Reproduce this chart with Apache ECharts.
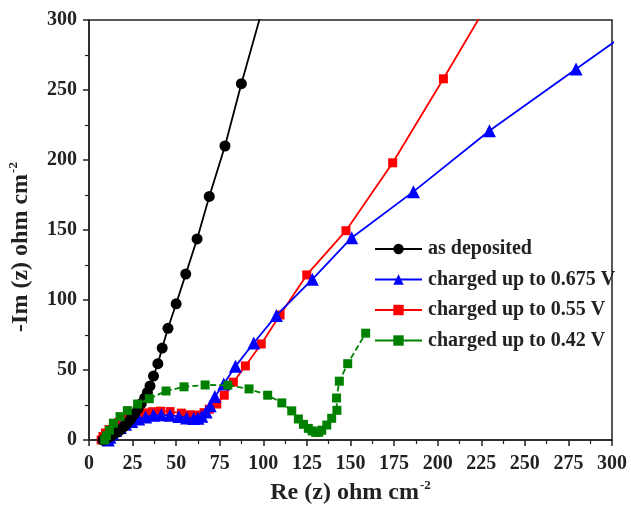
<!DOCTYPE html>
<html>
<head>
<meta charset="utf-8">
<script src="https://cdn.jsdelivr.net/npm/echarts@6/dist/echarts.min.js"></script>
<style>
  html, body { margin: 0; padding: 0; background: #fff; }
  #chart { width: 631px; height: 510px; }
</style>
</head>
<body>
<div id="chart"></div>
<script>
// Nyquist plot data: [Re(z), -Im(z)] in ohm cm^-2
const seriesNames = [
  'as deposited',
  'charged up to 0.675 V',
  'charged up to 0.55 V',
  'charged up to 0.42 V'
];

const asDeposited = [
  [8, 0], [10, 1], [12, 2.5], [14, 4], [16, 5.5], [18, 7.2], [20, 9.5],
  [22, 12], [24, 15], [26, 18.5], [28, 22], [30, 26], [32, 30], [33.5, 34],
  [35, 38.6], [37, 45.7], [39.5, 54.5], [42, 65.7], [45.3, 79.8], [50, 97.3],
  [55.5, 118.5], [62, 143.6], [69, 174], [78, 210], [87.4, 254.5], [99.5, 308]
];

const charged0675 = [
  [11, 0], [12, 2], [13.5, 4.5], [15.5, 7], [18, 9], [21, 11.3], [24.5, 13.3],
  [28.5, 15], [32.5, 16.5], [37, 17.6], [41.5, 18], [46.5, 17.6], [51.5, 16.8],
  [56, 15.8], [60, 15.3], [62.5, 15.5], [64.7, 17], [67.2, 20], [69.5, 24.5],
  [72.2, 31], [77.3, 40], [84, 52.6], [94.5, 69.3], [107.5, 89], [128.1, 114.8],
  [150.7, 144.5], [186.1, 177.4], [229.7, 220.9], [279.4, 265], [337, 316]
];

const charged055 = [
  [7, 0], [8, 2.5], [9.5, 5], [11.5, 7.5], [14, 10], [17, 12.5], [20.5, 14.8],
  [24.5, 16.8], [28.5, 18.3], [32.5, 19.4], [36.5, 20.2], [41, 20.6], [46.5, 20.3],
  [53, 19.2], [58, 18], [62.7, 17.8], [66, 19.5], [69, 22], [73.3, 25.7],
  [77.6, 32], [82.8, 41.3], [89.7, 52.9], [98.8, 68.6], [109.6, 89.3],
  [124.9, 117.9], [147.4, 149.5], [174.2, 198], [203.3, 258], [235, 325]
];

const charged042 = [
  [9, 0], [10, 3], [11.7, 7], [14, 12], [17.8, 16.7], [22, 21], [27.9, 25.7],
  [34.6, 29.5], [44.2, 35], [54.5, 38], [66.6, 39.3], [79.6, 39.2], [91.8, 36.5],
  [102.5, 32], [110.6, 26.5], [116.3, 20.8], [120.1, 15], [123, 11.2],
  [125.8, 8.3], [128, 6.5], [130, 5.5], [131.8, 5.5], [133.5, 7], [136.4, 10.7],
  [139.2, 15.5], [142.2, 21.2], [142, 30], [143.6, 42], [148.4, 54.5], [158.7, 76.3]
];

// Axis ranges and tick steps
const xRange = [0, 300];
const yRange = [0, 300];
const xStep = 25;
const yStep = 50;

const serif = "'Liberation Serif', 'Times New Roman', serif";
const axisColor = '#222';

const chart = echarts.init(document.getElementById('chart'), null, { renderer: 'canvas' });

const titleRich = {
  t: { fontFamily: serif, fontWeight: 'bold', fontSize: 24, color: '#222', lineHeight: 28 },
  s: { fontFamily: serif, fontWeight: 'bold', fontSize: 13, color: '#222', verticalAlign: 'top', lineHeight: 28, padding: [0, 0, 16, 1] }
};

function axisCommon(step, range) {
  return {
    type: 'value',
    min: range[0],
    max: range[1],
    interval: step,
    axisLine: { show: true, onZero: false, lineStyle: { color: axisColor, width: 1.5 } },
    axisTick: { show: true, inside: false, length: 6, lineStyle: { color: axisColor, width: 1.5 } },
    minorTick: { show: true, splitNumber: 2, length: 4, lineStyle: { color: axisColor, width: 1.2 } },
    splitLine: { show: false },
    axisLabel: { color: '#222', fontFamily: serif, fontWeight: 'bold', fontSize: 20, margin: 12 }
  };
}

const xAxis = Object.assign(axisCommon(xStep, xRange), {
  name: '{t|Re (z) ohm cm}{s|-2}',
  nameLocation: 'middle',
  nameGap: 38,
  nameTextStyle: { rich: titleRich }
});
xAxis.axisLabel.margin = 14;

const yAxis = Object.assign(axisCommon(yStep, yRange), {
  name: '{t|-Im (z) ohm cm}{s|-2}',
  nameLocation: 'middle',
  nameGap: 54,
  nameRotate: 90,
  // extra room at the far end of the title nudges it toward the origin
  nameTextStyle: { rich: titleRich, padding: [0, 34, 0, 0] }
});

function lineSeries(name, data, color, symbol, size, dashed, z) {
  return {
    name: name,
    type: 'line',
    data: data,
    symbol: symbol,
    symbolSize: size,
    showSymbol: true,
    clip: true,
    z: z,
    itemStyle: { color: color },
    lineStyle: { color: color, width: 1.8, type: dashed ? [6, 3] : 'solid' },
    emphasis: { disabled: true },
    animation: false
  };
}

chart.setOption({
  backgroundColor: '#fff',
  animation: false,
  grid: {
    left: 89, right: 19, top: 20, bottom: 70,
    containLabel: false,
    outerBoundsMode: 'none',
    show: true, borderColor: axisColor, borderWidth: 1.5, backgroundColor: 'transparent'
  },
  legend: {
    orient: 'vertical',
    left: 374,
    top: 239,
    padding: 0,
    itemWidth: 47,
    itemHeight: 13,
    itemGap: 10.5,
    data: seriesNames.map(function (n) { return { name: n, lineStyle: { type: 'solid' } }; }),
    textStyle: { fontFamily: serif, fontWeight: 'bold', fontSize: 20, color: '#222', padding: [0, 0, 0, 1] }
  },
  xAxis: xAxis,
  yAxis: yAxis,
  series: [
    lineSeries(seriesNames[0], asDeposited, '#000000', 'circle', 11, false, 4),
    lineSeries(seriesNames[1], charged0675, '#0000ff', 'triangle', 13, false, 3),
    lineSeries(seriesNames[2], charged055, '#ff0000', 'rect', 9, false, 2),
    lineSeries(seriesNames[3], charged042, '#008000', 'rect', 9, true, 5)
  ]
});
</script>
</body>
</html>
